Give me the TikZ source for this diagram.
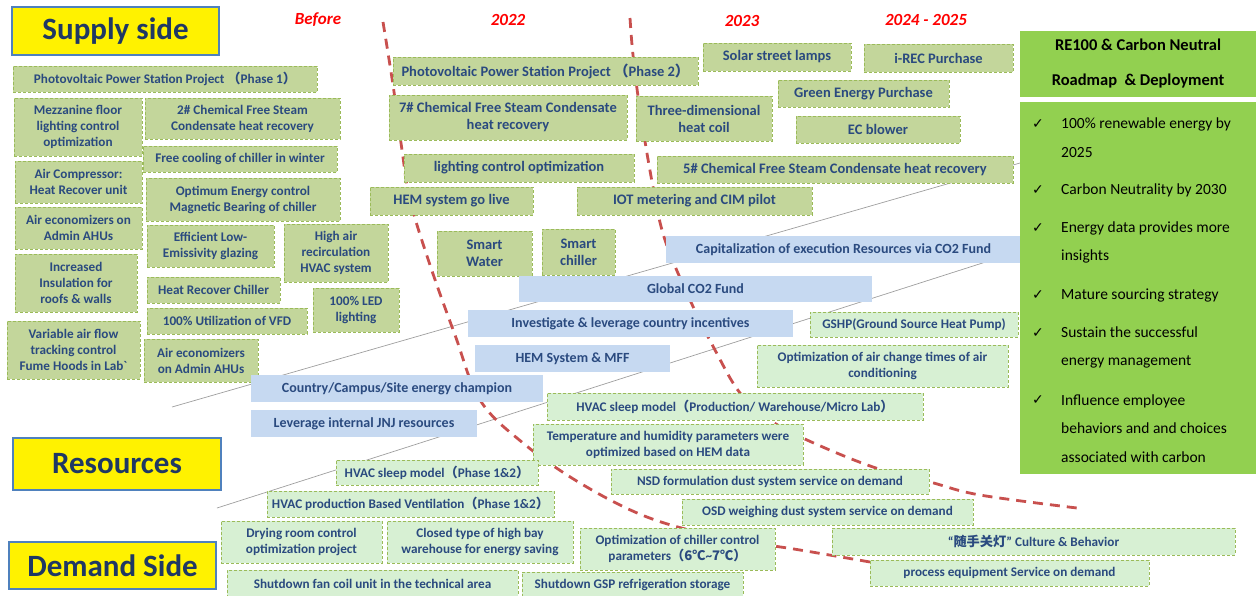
\documentclass[tikz,border=0pt]{standalone}
\usepackage{fontspec}
\setmainfont{Carlito}
\newfontfamily\cjk{Noto Sans CJK SC}
\newfontfamily\djv{DejaVu Sans}
\definecolor{gfill}{HTML}{C3D69B}
\definecolor{gline}{HTML}{9BBB59}
\definecolor{lgfill}{HTML}{D7F0D3}
\definecolor{bfill}{HTML}{C6D9F1}
\definecolor{txt}{HTML}{2A4A7F}
\definecolor{navy}{HTML}{1F3864}
\definecolor{panel}{HTML}{92D050}
\definecolor{redc}{HTML}{C8504E}
\definecolor{yr}{HTML}{FF0000}
\definecolor{ybord}{HTML}{4F81BD}
\tikzset{
 base/.style={inner sep=1pt, align=center, font=\fontsize{13.2}{16}\selectfont\bfseries, text=txt},
 big/.style={font=\fontsize{14.5}{17}\selectfont\bfseries},
 mid/.style={font=\fontsize{14}{17}\selectfont\bfseries},
 gbox/.style={base, fill=gfill, draw=gline, densely dashed, line width=0.8pt},
 lbox/.style={base, fill=lgfill, draw=gline, densely dashed, line width=0.8pt},
 bbox/.style={base, fill=bfill, mid},
 ybox/.style={fill=yellow, draw=ybord, line width=2pt, text=navy, font=\fontsize{31}{36}\selectfont\bfseries},
 yearlbl/.style={text=yr, font=\fontsize{17}{20}\selectfont\bfseries\itshape},
 redline/.style={redc, line width=2.8pt, dash pattern=on 10pt off 7pt},
 grayline/.style={black!38, line width=0.7pt},
 chk/.style={font=\djv\fontsize{14}{16}\selectfont, text=black},
 itm/.style={anchor=west, align=left, inner sep=0pt, font=\fontsize{15.5}{28.8}\selectfont, text=black},
}
\newcommand\bx[7]{\node[#1,minimum width={#4pt-#2pt},minimum height={#5pt-#3pt}] (#6) at ({(#2+#4)/2},{(#3+#5)/2}) {#7};}
\begin{document}
\begin{tikzpicture}[x=1pt,y=-1pt]
\useasboundingbox (0,0) rectangle (1257,595);
% perspective lines
\coordinate (g1a) at (172,407); \coordinate (g1b) at (1020,163);
\coordinate (g2a) at (217,508); \coordinate (g2b) at (1020,251);
\draw[grayline] (g1a) -- (g1b);
\draw[grayline] (g2a) -- (g2b);
% red dashed time boundaries
\draw[redline] plot[smooth, tension=0.6] coordinates {(383,22) (393,85) (402,150) (410,200) (430,265) (455,335) (480,400) (523,443) (580,483) (647,517) (720,537) (800,550) (870,562)};
\draw[redline] plot[smooth, tension=0.6] coordinates {(630,18) (633,55) (640,110) (653,187) (665,240) (690,300) (715,350) (740,393) (770,420) (807,440) (873,467) (930,482) (980,495) (1077,508)};
% titles
\bx{ybox}{12}{7}{219}{55}{supply}{Supply side}
\bx{ybox}{13}{438}{221}{490}{res}{Resources}
\bx{ybox}{9}{542}{216}{589}{demand}{Demand Side}
% years
\node[yearlbl] (ybefore) at (318,20) {Before};
\node[yearlbl] (y22) at (508,20) {2022};
\node[yearlbl] (y23) at (742,21) {2023};
\node[yearlbl] (y2425) at (926,20) {2024 - 2025};
% supply boxes
\bx{gbox}{13}{66}{317}{92}{pv1}{Photovoltaic Power Station Project {\cjk （}Phase 1{\cjk ）}}
\bx{gbox}{14}{98}{142}{156}{mezz}{Mezzanine floor\\lighting control\\optimization}
\bx{gbox}{145}{98}{340}{139}{chemtwo}{2\# Chemical Free Steam\\Condensate heat recovery}
\bx{gbox}{143}{146}{337}{172}{free}{Free cooling of chiller in winter}
\bx{gbox}{15}{161}{142}{203}{aircomp}{Air Compressor:\\Heat Recover unit}
\bx{gbox}{146}{178}{340}{221}{optim}{Optimum Energy control\\Magnetic Bearing of chiller}
\bx{gbox}{15}{207}{142}{249}{aeconA}{Air economizers on\\Admin AHUs}
\bx{gbox}{147}{225}{274}{267}{lowe}{Efficient Low-\\Emissivity glazing}
\bx{gbox}{284}{224}{388}{282}{highair}{High air\\recirculation\\HVAC system}
\bx{gbox}{15}{254}{137}{312}{insul}{Increased\\Insulation for\\roofs \& walls}
\bx{gbox}{147}{277}{280}{303}{hrc}{Heat Recover Chiller}
\bx{gbox}{313}{288}{399}{332}{led}{100\% LED\\lighting}
\bx{gbox}{147}{308}{307}{334}{vfd}{100\% Utilization of VFD}
\bx{gbox}{7}{321}{140}{379}{vaf}{Variable air flow\\tracking control\\Fume Hoods in Lab\textasciigrave}
\bx{gbox}{144}{339}{258}{382}{aeconB}{Air economizers\\on Admin AHUs}
\bx{gbox,big}{393}{57}{698}{85}{pvtwo}{Photovoltaic Power Station Project {\cjk （}Phase 2{\cjk ）}}
\bx{gbox,big}{389}{95}{627}{140}{chemseven}{7\# Chemical Free Steam Condensate\\heat recovery}
\bx{gbox,big}{636}{96}{772}{141}{coil}{Three-dimensional\\heat coil}
\bx{gbox,big}{404}{154}{634}{182}{lco}{lighting control optimization}
\bx{gbox,big}{370}{187}{533}{215}{hem}{HEM system go live}
\bx{gbox,big}{577}{187}{812}{215}{iot}{IOT metering and CIM pilot}
\bx{gbox,big}{703}{43}{851}{71}{solar}{Solar street lamps}
\bx{gbox,big}{864}{44}{1013}{72}{irec}{i-REC Purchase}
\bx{gbox,big}{778}{80}{949}{107}{gep}{Green Energy Purchase}
\bx{gbox,big}{796}{116}{960}{143}{ecb}{EC blower}
\bx{gbox,big}{657}{156}{1013}{183}{chemfive}{5\# Chemical Free Steam Condensate heat recovery}
\bx{gbox,big}{437}{231}{532}{276}{water}{Smart\\Water}
\bx{gbox,big}{542}{229}{615}{275}{schiller}{Smart\\chiller}
% resources
\bx{bbox}{666}{236}{1021}{263}{cap}{Capitalization of execution Resources via CO2 Fund}
\bx{bbox}{519}{276}{872}{302}{gco}{Global CO2 Fund}
\bx{bbox}{468}{310}{793}{337}{inv}{Investigate \& leverage country incentives}
\bx{bbox}{475}{345}{670}{372}{hemm}{HEM System \& MFF}
\bx{bbox}{251}{375}{543}{402}{champ}{Country/Campus/Site energy champion}
\bx{bbox}{251}{410}{477}{437}{jnj}{Leverage internal JNJ resources}
% demand
\bx{lbox}{810}{312}{1018}{337}{gshp}{GSHP(Ground Source Heat Pump)}
\bx{lbox}{757}{345}{1008}{387}{airchg}{Optimization of air change times of air\\conditioning}
\bx{lbox}{547}{393}{923}{420}{hvacpw}{HVAC sleep model{\cjk （}Production/ Warehouse/Micro Lab{\cjk ）}}
\bx{lbox}{533}{424}{803}{465}{temp}{Temperature and humidity parameters were\\optimized based on HEM data}
\bx{lbox}{336}{460}{538}{485}{hvacph}{HVAC sleep model{\cjk （}Phase 1\&2{\cjk ）}}
\bx{lbox}{611}{469}{929}{494}{nsd}{NSD formulation dust system service on demand}
\bx{lbox}{267}{491}{554}{517}{hvacprod}{HVAC production Based Ventilation{\cjk （}Phase 1\&2{\cjk ）}}
\bx{lbox}{682}{499}{973}{525}{osd}{OSD weighing dust system service on demand}
\bx{lbox}{221}{521}{382}{563}{dry}{Drying room control\\optimization project}
\bx{lbox}{387}{521}{573}{563}{closed}{Closed type of high bay\\warehouse for energy saving}
\bx{lbox}{580}{528}{775}{570}{chctl}{Optimization of chiller control\\parameters{\cjk （6℃}\textasciitilde{\cjk 7℃）}}
\bx{lbox}{832}{528}{1235}{555}{culture}{“{\cjk 随手关灯}” Culture \& Behavior}
\bx{lbox}{870}{560}{1149}{586}{proc}{process equipment Service on demand}
\bx{lbox}{227}{570}{518}{598}{fan}{Shutdown fan coil unit in the technical area}
\bx{lbox}{522}{572}{743}{598}{gsp}{Shutdown GSP refrigeration storage}
% right panel
\node[fill=panel, minimum width=236pt, minimum height=66pt, inner sep=0pt, align=center, font=\fontsize{16.5}{35}\selectfont\bfseries] (rtitle) at (1138,64) {RE100 \& Carbon Neutral\\Roadmap\ \ \& Deployment};
\node[fill=panel, minimum width=236pt, minimum height=372pt, inner sep=0pt] (rlist) at (1138,288) {};
\node[chk] (c1) at (1038,124) {✓};
\node[itm] (t1) at (1061,138) {100\% renewable energy by\\2025};
\node[chk] (c2) at (1038,190) {✓};
\node[itm] (t2) at (1061,190) {Carbon Neutrality by 2030};
\node[chk] (c3) at (1038,228) {✓};
\node[itm] (t3) at (1061,242.5) {Energy data provides more\\insights};
\node[chk] (c4) at (1038,295) {✓};
\node[itm] (t4) at (1061,295) {Mature sourcing strategy};
\node[chk] (c5) at (1038,333) {✓};
\node[itm] (t5) at (1061,347.5) {Sustain the successful\\energy management};
\node[chk] (c6) at (1038,400) {✓};
\node[itm] (t6) at (1061,428.5) {Influence employee\\behaviors and and choices\\associated with carbon};
\end{tikzpicture}
\end{document}
